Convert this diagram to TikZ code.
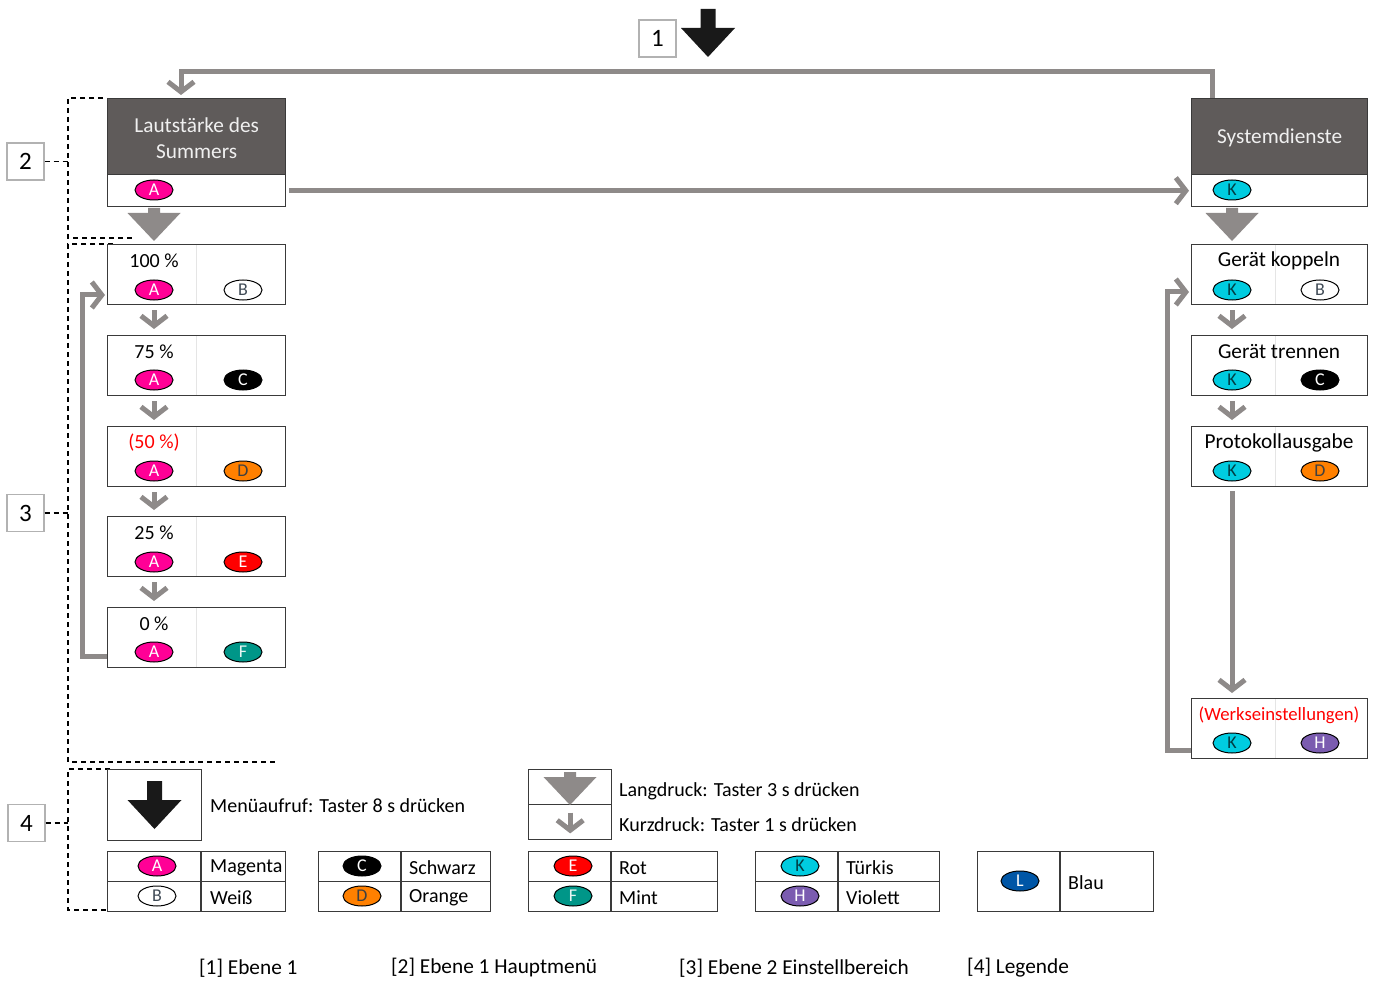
\documentclass[tikz,border=0pt]{standalone}
\usepackage{fontspec}
\setmainfont{Carlito}
\usetikzlibrary{arrows.meta,shapes.geometric,calc}
\definecolor{hdr}{HTML}{5F5B5A}
\definecolor{conn}{HTML}{8E8A89}
\definecolor{bord}{HTML}{3A3A3A}
\definecolor{cmag}{HTML}{FF0096}
\definecolor{cora}{HTML}{FF8000}
\definecolor{cred}{HTML}{FF0000}
\definecolor{cmint}{HTML}{009688}
\definecolor{cturq}{HTML}{00CCE0}
\definecolor{cviol}{HTML}{7B5CB0}
\definecolor{cblue}{HTML}{0056A6}
\definecolor{lgray}{HTML}{3F4A55}
\tikzset{
  mainfont/.style={font=\fontsize{20}{26}\selectfont},
  bigfont/.style={font=\fontsize{21.3}{26}\selectfont},
  box/.style={draw=bord, line width=1.4pt, fill=white, minimum height=60pt, inner sep=0pt, anchor=north west},
  lbox/.style={box, minimum width=178pt},
  rbox/.style={box, minimum width=176pt},
  hdrbox/.style={draw=bord, line width=1.4pt, fill=hdr, minimum height=76pt, inner sep=0pt, anchor=north west},
  ttl/.style={mainfont, inner sep=0pt, anchor=center},
  rttl/.style={bigfont, inner sep=0pt, anchor=center},
  hdrtxt/.style={bigfont, text=white!94!black, align=center, inner sep=0pt},
  lamp/.style={ellipse, draw=black, line width=1pt, minimum width=38pt, minimum height=20pt, inner sep=0pt, font=\fontsize{18}{18}\selectfont},
  lA/.style={lamp, fill=cmag, text=white},
  lB/.style={lamp, fill=white, text=lgray},
  lC/.style={lamp, fill=black, text=white},
  lD/.style={lamp, fill=cora, text=black!75},
  lE/.style={lamp, fill=cred, text=white},
  lF/.style={lamp, fill=cmint, text=white!90!cmint},
  lK/.style={lamp, fill=cturq, text=black!70!cturq},
  lH/.style={lamp, fill=cviol, text=white},
  lL/.style={lamp, fill=cblue, text=white},
  garrow/.style={draw=conn, line width=5pt, -{Straight Barb[length=10pt,width=26pt]}},
  dashln/.style={draw=black, line width=1.2pt, dash pattern=on 5pt off 4pt},
  numbox/.style={draw=black!30, line width=1.3pt, minimum width=37pt, minimum height=37pt, inner sep=0pt, font=\fontsize{25}{25}\selectfont},
  divl/.style={draw=black!10, line width=0.5pt},
  tline/.style={draw=bord, line width=1.4pt},
  legtxt/.style={mainfont, anchor=west, inner sep=0pt},
  captxt/.style={bigfont, anchor=west, inner sep=0pt},
  bigarrow/.pic={\fill (-6,0) -- (6,0) -- (6,5) -- (26.5,5) -- (0,33) -- (-26.5,5) -- (-6,5) -- cycle;},
  blkarrow/.pic={\fill (-7.5,0) -- (7.5,0) -- (7.5,19) -- (27,19) -- (0,48) -- (-27,19) -- (-7.5,19) -- cycle;}
}
\begin{document}
\begin{tikzpicture}[x=1pt,y=-1pt]
\useasboundingbox (0,0) rectangle (1375,981);

% ---- number labels and dashed regions
\node[numbox] (n1) at (657.5,38.5) {1};
\node[numbox] (n2) at (25.5,161.5) {2};
\node[numbox] (n3) at (25.5,513) {3};
\node[numbox] (n4) at (26.5,823) {4};
\pic[fill=black!90] at (708,9) {blkarrow};

\coordinate (d2) at (68,161.5);
\coordinate (d3) at (68,513);
\coordinate (d4) at (68,823);
\draw[dashln] (n2.east) -- (d2);
\draw[dashln] (n3.east) -- (d3);
\draw[dashln] (n4.east) -- (d4);
\draw[dashln] (103,98) -- (68,98) -- (68,238) -- (133,238);
\draw[dashln] (113,244) -- (68,244) -- (68,762) -- (277,762);
\draw[dashln] (110,769) -- (68,769) -- (68,910) -- (107,910);

% ---- headers
\node[hdrbox, minimum width=178pt] (H1) at (107,98) {};
\node[box, minimum width=178pt, minimum height=32pt] (H1b) at (107,174) {};
\node[hdrtxt] (H1t) at ($(H1.center)+(0,1)$) {Lautstärke des\\Summers};
\node[lA] (H1e) at (154,190) {A};

\node[hdrbox, minimum width=176pt] (H2) at (1191,98) {};
\node[box, minimum width=176pt, minimum height=32pt] (H2b) at (1191,174) {};
\node[hdrtxt] (H2t) at ($(H2.center)+(0,1)$) {Systemdienste};
\node[lK] (H2e) at (1232,190) {K};

% ---- left column
\node[lbox] (L1) at (107,244) {};
\node[lbox] (L2) at (107,335) {};
\node[lbox] (L3) at (107,426) {};
\node[lbox] (L4) at (107,516) {};
\node[lbox] (L5) at (107,607) {};
\foreach \b in {L1,L2,L3,L4,L5}{
  \draw[divl] ($(\b.north)+(0,1)$) -- ($(\b.south)+(0,-1)$);
}
\node[ttl] (L1t) at (154,261) {100 \%};
\node[ttl] (L2t) at (154,352) {75 \%};
\node[ttl, text=cred] (L3t) at (154,443) {(50 \%)};
\node[ttl] (L4t) at (154,533) {25 \%};
\node[ttl] (L5t) at (154,624) {0 \%};
\node[lA] (L1a) at (154,290) {A};  \node[lB] (L1b) at (243,290) {B};
\node[lA] (L2a) at (154,380) {A};  \node[lC] (L2b) at (243,380) {C};
\node[lA] (L3a) at (154,471) {A};  \node[lD] (L3b) at (243,471) {D};
\node[lA] (L4a) at (154,562) {A};  \node[lE] (L4b) at (243,562) {E};
\node[lA] (L5a) at (154,652) {A};  \node[lF] (L5b) at (243,652) {F};

% ---- right column
\node[rbox] (R1) at (1191,244) {};
\node[rbox] (R2) at (1191,335) {};
\node[rbox] (R3) at (1191,426) {};
\node[rbox] (R4) at (1191,698) {};
\foreach \b in {R1,R2,R3,R4}{
  \draw[divl] ($(\b.north)+(-4,1)$) -- ($(\b.south)+(-4,-1)$);
}
\node[rttl] (R1t) at (1279,261) {Gerät koppeln};
\node[rttl] (R2t) at (1279,352) {Gerät trennen};
\node[rttl] (R3t) at (1279,443) {Protokollausgabe};
\node[ttl, font=\fontsize{18.7}{22}\selectfont, text=cred] (R4t) at (1279,715) {(Werkseinstellungen)};
\node[lK] (R1a) at (1232,290) {K};  \node[lB] (R1b) at (1320,290) {B};
\node[lK] (R2a) at (1232,380) {K};  \node[lC] (R2b) at (1320,380) {C};
\node[lK] (R3a) at (1232,471) {K};  \node[lD] (R3b) at (1320,471) {D};
\node[lK] (R4a) at (1232,743) {K};  \node[lH] (R4b) at (1320,743) {H};

% ---- long-press arrows below headers
\pic[fill=conn] at (154,208) {bigarrow};
\pic[fill=conn] at (1232,208) {bigarrow};

% ---- connectors
\draw[garrow] ($(H2.north west)+(21,0)$) -- ++(0,-26) -| ($(H1.north west)+(74,-3)$);
\draw[garrow] ([xshift=3pt]H1b.east) -- ([xshift=-2pt]H2b.west);

\draw[garrow] ($(L1.south west)+(47,5)$) -- ($(L2.north west)+(47,-6)$);
\draw[garrow] ($(L2.south west)+(47,5)$) -- ($(L3.north west)+(47,-6)$);
\draw[garrow] ($(L3.south west)+(47,5)$) -- ($(L4.north west)+(47,-6)$);
\draw[garrow] ($(L4.south west)+(47,5)$) -- ($(L5.north west)+(47,-6)$);
\draw[garrow] ($(L5.north west)+(0,49)$) -- ++(-25,0) |- ($(L1.north west)+(-2,51)$);

\draw[garrow] ($(R1.south west)+(41,5)$) -- ($(R2.north west)+(41,-6)$);
\draw[garrow] ($(R2.south west)+(41,5)$) -- ($(R3.north west)+(41,-6)$);
\draw[garrow] ($(R3.south west)+(41,4)$) -- ($(R4.north west)+(41,-5)$);
\draw[garrow] ($(R4.north west)+(0,52)$) -- ++(-24,0) |- ($(R1.north west)+(-2,48)$);

% ---- legend
\node[box, minimum width=94pt, minimum height=71pt] (G1) at (107,769) {};
\pic[fill=black!90] at (154.5,781) {blkarrow};
\node[legtxt] (G1t) at (210,806) {Menüaufruf: Taster 8 s drücken};

\node[box, minimum width=83pt, minimum height=70pt] (G2) at (528,769) {};
\draw[tline] (G2.west) -- (G2.east);
\pic[fill=conn] at (570,772) {bigarrow};
\draw[garrow] ($(G2.center)+(0,8)$) -- ($(G2.south)+(0,-7)$);
\node[legtxt] (G2a) at (619,791) {Langdruck: Taster 3 s drücken};
\node[legtxt] (G2b) at (619,825) {Kurzdruck: Taster 1 s drücken};

% color tables
\node[box, minimum width=178pt] (T1) at (107,851) {};
\draw[tline] (T1.west) -- (T1.east);
\draw[tline] ($(T1.north west)+(94,0)$) -- ($(T1.south west)+(94,0)$);
\node[lA] (T1a) at (157,866) {A};
\node[lB] (T1b) at (157,896) {B};
\node[legtxt] at (210,868) {Magenta};
\node[legtxt] at (210,898) {Weiß};

\node[box, minimum width=172pt] (T2) at (318,851) {};
\draw[tline] (T2.west) -- (T2.east);
\draw[tline] ($(T2.north west)+(83,0)$) -- ($(T2.south west)+(83,0)$);
\node[lC] (T2a) at (362,866) {C};
\node[lD] (T2b) at (362,896) {D};
\node[legtxt] at (409,868) {Schwarz};
\node[legtxt] at (409,898) {Orange};

\node[box, minimum width=189pt] (T3) at (528,851) {};
\draw[tline] (T3.west) -- (T3.east);
\draw[tline] ($(T3.north west)+(83,0)$) -- ($(T3.south west)+(83,0)$);
\node[lE] (T3a) at (573,866) {E};
\node[lF] (T3b) at (573,896) {F};
\node[legtxt] at (619,868) {Rot};
\node[legtxt] at (619,898) {Mint};

\node[box, minimum width=184pt] (T4) at (755,851) {};
\draw[tline] (T4.west) -- (T4.east);
\draw[tline] ($(T4.north west)+(83,0)$) -- ($(T4.south west)+(83,0)$);
\node[lK] (T4a) at (800,866) {K};
\node[lH] (T4b) at (800,896) {H};
\node[legtxt] at (846,868) {Türkis};
\node[legtxt] at (846,898) {Violett};

\node[box, minimum width=176pt] (T5) at (977,851) {};
\draw[tline] ($(T5.north west)+(83,0)$) -- ($(T5.south west)+(83,0)$);
\node[lL] (T5a) at (1020,881) {L};
\node[legtxt] at (1068,883) {Blau};

% bottom captions
\node[captxt] (c1) at (199,968) {[1] Ebene 1};
\node[captxt] (c2) at (391,968) {[2] Ebene 1 Hauptmenü};
\node[captxt] (c3) at (679,968) {[3] Ebene 2 Einstellbereich};
\node[captxt] (c4) at (967,968) {[4] Legende};
\end{tikzpicture}
\end{document}
